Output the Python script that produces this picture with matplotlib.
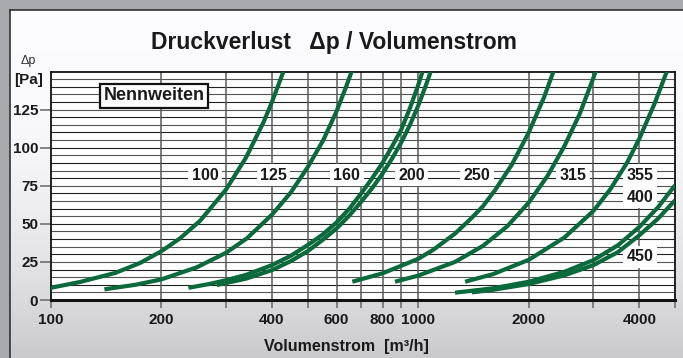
import numpy as np
import matplotlib

matplotlib.use("Agg")
import matplotlib.pyplot as plt
from matplotlib.ticker import FixedLocator, FixedFormatter, NullLocator

plt.rcParams["font.family"] = ["Liberation Sans", "DejaVu Sans"]

# Pressure loss curves per nominal width: volume flow [m3/h] -> dp [Pa]
q_100 = [100, 120, 150, 175, 200, 225, 255, 300, 340, 380, 400, 430]
p_100 = [8, 11.8, 17.8, 24.3, 32, 40.5, 52, 72.5, 93.5, 117, 130, 150]

q_125 = [140, 170, 200, 250, 300, 342, 400, 450, 500, 552, 600, 639, 659]
p_125 = [7, 10, 13.5, 21.5, 31, 40.5, 56, 70.5, 87, 105, 124, 141, 150]

q_160 = [237, 270, 300, 340, 400, 450, 500, 550, 600, 650, 700, 750, 800,
         850, 900, 950, 1000, 1028]
p_160 = [8, 10.5, 13, 16.5, 22.9, 29, 36, 43, 51, 60, 70, 80, 90,
         101, 112, 126, 141, 150]

q_200 = [283, 340, 400, 450, 500, 550, 600, 650, 700, 750, 800, 850, 900,
         950, 1000, 1050, 1082]
p_200 = [9.8, 14, 19.6, 25.5, 32, 39.5, 47, 55.5, 64.5, 73.5, 83, 93, 103.5,
         115, 127.5, 141, 150]

q_250 = [662, 800, 1000, 1100, 1260, 1400, 1500, 1618, 1800, 2000, 2200, 2335]
p_250 = [12, 17.5, 27, 33, 43.6, 54, 61.5, 72, 89, 110, 133, 150]

q_315 = [865, 1000, 1260, 1500, 1750, 2000, 2250, 2500, 2750, 3000, 3040]
p_315 = [12, 16, 25, 35.5, 48.5, 64, 81.5, 101, 122, 146, 150]

q_355 = [1342, 1600, 2000, 2500, 3000, 3330, 3700, 4000, 4400, 4750]
p_355 = [12, 17, 26.4, 41, 58.5, 72.5, 90, 106, 129, 150]

q_400 = [1260, 1600, 2000, 2500, 3000, 3500, 4000, 4500, 5000]
p_400 = [4.8, 7.7, 12, 18.5, 26.2, 36, 48, 61, 75.3]

q_450 = [1400, 1600, 2000, 2500, 3000, 3500, 4000, 4500, 5000]
p_450 = [5, 6.7, 10.5, 16.2, 22.9, 31.5, 42.5, 53.5, 65.4]

curves = [(q_100, p_100), (q_125, p_125), (q_160, p_160), (q_200, p_200),
          (q_250, p_250), (q_315, p_315), (q_355, p_355), (q_400, p_400),
          (q_450, p_450)]

# nominal width labels and where they sit (flow, dp)
dn_labels = ["100", "125", "160", "200", "250", "315", "355", "400", "450"]
dn_label_q = [263, 404, 639, 960, 1444, 2645, 4018, 4018, 4018]
dn_label_p = [82, 82, 82, 82, 82, 82, 82, 67.6, 28.3]

x_grid = [100, 200, 300, 400, 500, 600, 700, 800, 900,
          1000, 2000, 3000, 4000, 5000]
x_ticklabels = ["100", "200", "", "400", "", "600", "", "800", "",
                "1000", "2000", "", "4000", ""]
y_ticks = [0, 25, 50, 75, 100, 125]

GREEN = "#0b6a3b"
W, H = 683, 358

fig = plt.figure(figsize=(W / 100, H / 100), dpi=100, facecolor="#a8aaad")

# light panel with a soft vertical gradient
bg = fig.add_axes([10 / W, 0, 1 - 10 / W, 1 - 10 / H])
t = np.linspace(0, 1, 256)[:, None]
shade = 1 - 0.2 * t ** 2.2
bg.imshow(np.dstack([shade * 0.99, shade * 0.99, shade]), aspect="auto",
          extent=[0, 1, 0, 1], origin="upper", vmin=0, vmax=1)
bg.set_xticks([])
bg.set_yticks([])
for side in ("right", "bottom"):
    bg.spines[side].set_visible(False)
for side in ("left", "top"):
    bg.spines[side].set_linewidth(1.2)
    bg.spines[side].set_color("#333333")

ax = fig.add_axes([50.7 / W, (H - 300) / H, (675 - 50.7) / W, (300 - 71.5) / H])
ax.set_facecolor("white")
ax.set_xscale("log")
ax.set_xlim(100, 5000)
ax.set_ylim(0, 150)

# horizontal grid every 5 Pa
for i, y in enumerate(range(5, 150, 5)):
    ax.axhline(y, color="#222222" if i % 2 else "#555555", lw=0.8, zorder=1)
for x in x_grid[1:-1]:
    ax.axvline(x, color="#5a5a5a", lw=1.1, zorder=1)

for q, p in curves:
    ax.plot(q, p, color=GREEN, lw=3.0, solid_capstyle="butt",
            solid_joinstyle="round", zorder=4)

for lab, q, p in zip(dn_labels, dn_label_q, dn_label_p):
    ax.text(q, p, lab, ha="center", va="center", fontsize=11.5,
            fontweight="bold", color="#1a1a1a", zorder=3,
            bbox=dict(boxstyle="square,pad=0.22", fc="white", ec="none"))

ax.text(191, 134, "Nennweiten", ha="center", va="center", fontsize=13,
        fontweight="bold", color="#1a1a1a", zorder=5,
        bbox=dict(boxstyle="square,pad=0.18", fc="white", ec="#111111", lw=1.6))

ax.xaxis.set_major_locator(FixedLocator(x_grid))
ax.xaxis.set_major_formatter(FixedFormatter(x_ticklabels))
ax.xaxis.set_minor_locator(NullLocator())
ax.set_yticks(y_ticks)
ax.tick_params(axis="x", direction="out", length=6, width=1.1, color="#666666",
               labelsize=11, pad=3, labelcolor="#1a1a1a")
ax.tick_params(axis="y", direction="out", length=8, width=1.1, color="#666666",
               labelsize=11, pad=1, labelcolor="#1a1a1a")
for lbl in ax.get_xticklabels() + ax.get_yticklabels():
    lbl.set_fontweight("bold")

for side in ("left", "top", "right"):
    ax.spines[side].set_linewidth(1.3)
    ax.spines[side].set_color("#111111")
ax.spines["bottom"].set_linewidth(2.2)
ax.spines["bottom"].set_color("#111111")

fig.text(333.5 / W, 1 - 43 / H, "Druckverlust   \u0394p / Volumenstrom",
         ha="center", va="center", fontsize=16.5, fontweight="bold",
         color="#1a1a1a")
fig.text(28 / W, 1 - 61 / H, "\u0394p", ha="center", va="center",
         fontsize=9, color="#333333")
fig.text(28.5 / W, 1 - 80 / H, "[Pa]", ha="center", va="center",
         fontsize=11, fontweight="bold", color="#1a1a1a")
fig.text(346 / W, 1 - 346 / H, "Volumenstrom  [m\u00b3/h]", ha="center",
         va="center", fontsize=11.5, fontweight="bold", color="#1a1a1a")

fig.savefig("out.png", dpi=100, facecolor=fig.get_facecolor())
